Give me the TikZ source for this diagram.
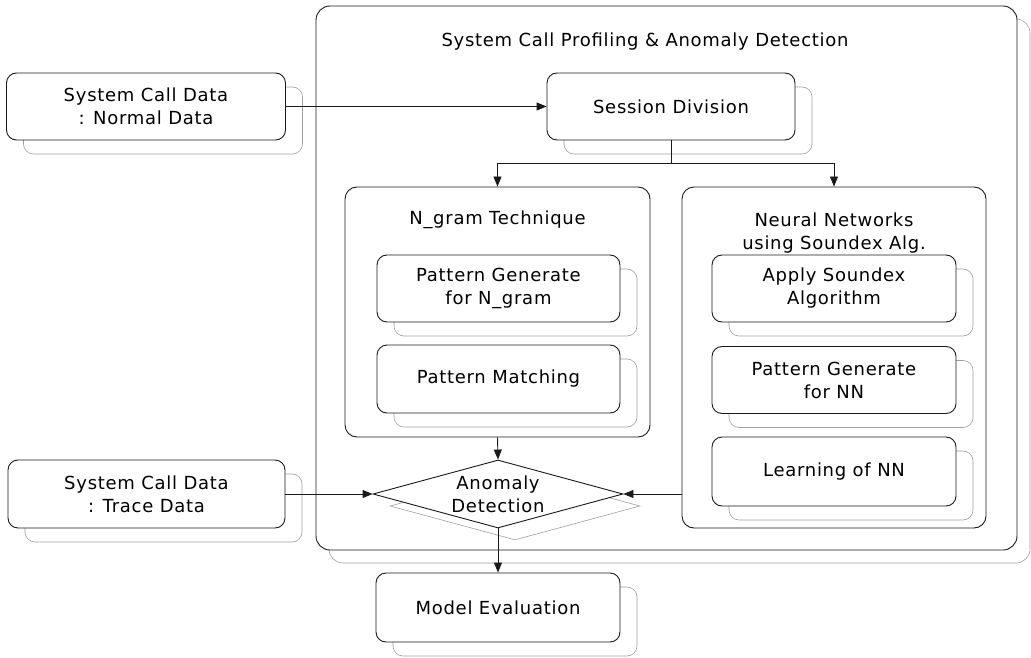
\documentclass[tikz,border=0pt]{standalone}
\usepackage{fontspec}
\setmainfont{DejaVu Sans}[LetterSpace=4]
\usepackage{xcolor}
\usetikzlibrary{arrows.meta,positioning,shapes.geometric,shadows}
\definecolor{inkdark}{HTML}{1A1A1A}
\definecolor{shadowgray}{HTML}{A0A0A0}

\begin{document}
\begin{tikzpicture}[x=1pt, y=-1pt,
  card/.style={draw=inkdark, fill=white, line width=0.9pt, rounded corners=10pt, align=center, inner sep=0pt, font=\fontsize{18}{23}\selectfont,
    copy shadow={shadow xshift=17pt, shadow yshift=-14pt, draw=shadowgray, fill=white, line width=0.6pt}},
  group/.style={draw=inkdark, fill=white, line width=0.9pt, rounded corners=12pt, inner sep=0pt},
  frame/.style={group, rounded corners=14pt,
    copy shadow={shadow xshift=13pt, shadow yshift=-13pt, draw=shadowgray, fill=white, line width=0.6pt}},
  decision/.style={diamond, draw=inkdark, fill=white, line width=0.9pt, aspect=3.7, minimum width=250pt, minimum height=68pt, inner sep=0pt, align=center, font=\fontsize{18}{23}\selectfont,
    copy shadow={shadow xshift=17pt, shadow yshift=-12pt, draw=shadowgray, fill=white, line width=0.6pt}},
  heading/.style={align=center, font=\fontsize{18}{23}\selectfont},
  flow/.style={-{Triangle[length=10pt,width=8pt]}, draw=inkdark, line width=0.9pt},
  link/.style={draw=inkdark, line width=0.9pt}
]
  \useasboundingbox (0,0) rectangle (1031,658);

  \node[frame, minimum width=701pt, minimum height=544pt] (profiling) at (666.5,278) {};
  \node[heading] (profilingtitle) at (645,42) {System Call Profiling \& Anomaly Detection};

  \node[card, minimum width=279pt, minimum height=67pt] (normal) at (146,106.5) {System Call Data\\: Normal Data};
  \node[card, minimum width=248pt, minimum height=67pt] (session) at (671,106.5) {Session Division};

  \node[group, minimum width=305pt, minimum height=250pt] (ngram) at (497.5,312) {};
  \node[heading] (ngramtitle) at (497.5,220) {N\_gram Technique};
  \node[card, minimum width=243pt, minimum height=67pt] (ngrampattern) at (498.5,288.5) {Pattern Generate\\for N\_gram};
  \node[card, minimum width=243pt, minimum height=68pt] (matching) at (498.5,379) {Pattern Matching};

  \node[group, minimum width=304pt, minimum height=341pt] (neural) at (834,357.5) {};
  \node[heading] (neuraltitle) at (834,233) {Neural Networks\\using Soundex Alg.};
  \node[card, minimum width=244pt, minimum height=67pt] (soundex) at (834,288.5) {Apply Soundex\\Algorithm};
  \node[card, minimum width=244pt, minimum height=67pt] (nnpattern) at (834,380) {Pattern Generate\\for NN};
  \node[card, minimum width=244pt, minimum height=69pt] (learning) at (834,471.5) {Learning of NN};

  \node[card, minimum width=277pt, minimum height=68pt] (trace) at (146.5,494) {System Call Data\\: Trace Data};
  \node[decision] (detect) at (498,494) {Anomaly\\Detection};
  \node[card, minimum width=244pt, minimum height=69pt] (evaluation) at (498,607.5) {Model Evaluation};

  \draw[flow] (normal.east) -- (session.west);
  \draw[link] (session.south) -- ++(0,23) coordinate (split);
  \draw[flow] (split) -| (ngram.north);
  \draw[flow] (split) -| (neural.north);
  \draw[flow] (ngram.south) -- (detect.north);
  \draw[flow] (trace.east) -- (detect.west);
  \draw[flow] (detect.east -| neural.west) -- (detect.east);
  \draw[flow] (detect.south) -- (evaluation.north);
\end{tikzpicture}
\end{document}
